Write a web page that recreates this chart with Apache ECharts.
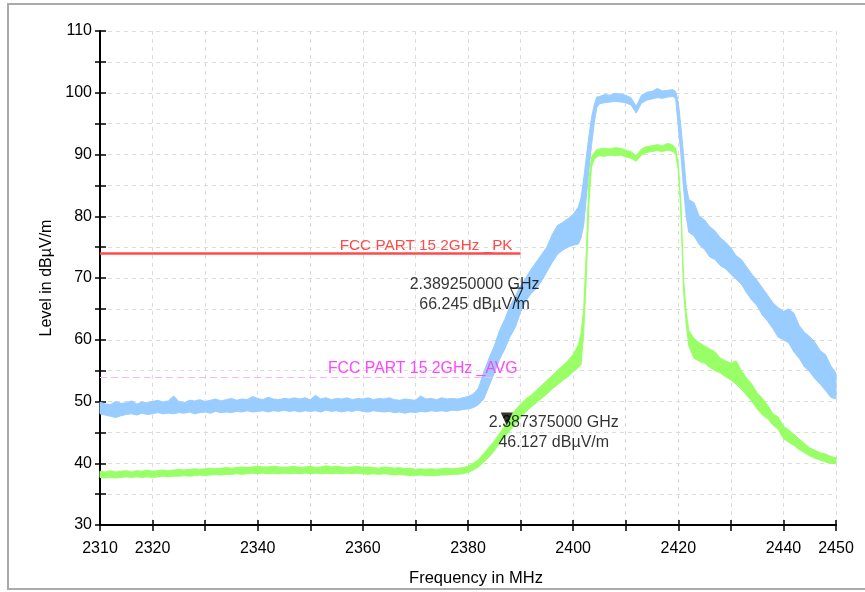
<!DOCTYPE html>
<html><head><meta charset="utf-8">
<script src="https://cdn.jsdelivr.net/npm/echarts@6/dist/echarts.min.js"></script>
<style>html,body{margin:0;padding:0;background:#fff}#chart{width:865px;height:592px}</style>
</head><body><div id="chart"></div>
<script>
// ---- data ----
const freqs = [
 2310,2311,2312,2313,2314,2315,2316,2317,2318,2319,
 2320,2321,2322,2323,2324,2325,2326,2327,2328,2329,
 2330,2331,2332,2333,2334,2335,2336,2337,2338,2339,
 2340,2341,2342,2343,2344,2345,2346,2347,2348,2349,
 2350,2351,2352,2353,2354,2355,2356,2357,2358,2359,
 2360,2361,2362,2363,2364,2365,2366,2367,2368,2369,
 2370,2371,2372,2373,2374,2375,2376,2377,2378,2379,
 2380,2381,2382,2383,2384,2385,2386,2387,2388,2389,
 2390,2391,2392,2393,2394,2395,2396,2397,2398,2399,
 2400,2401,2401.5,2402,2402.5,2403,2403.5,2404,2404.5,
 2405,2406,2407,2408,2409,2410,2411,2412,2413,2414,2415,2416,2417,2418,2419,
 2419.5,2420,2420.5,2421,2421.5,
 2422,2423,2424,2425,2426,2427,2428,2429,2430,2431,2432,2433,2434,2435,2436,
 2437,2438,2439,2440,2441,2442,2443,2444,2445,2446,2447,2448,2449,2450
];
const peakLo = [
 48.0,47.8,47.6,47.4,47.7,47.9,48.0,47.8,48.1,47.9,
 48.0,48.2,48.0,48.1,48.0,48.2,48.1,48.3,48.0,48.2,
 48.3,48.1,48.4,48.2,48.3,48.2,48.4,48.3,48.5,48.3,
 48.4,48.5,48.3,48.5,48.4,48.6,48.4,48.5,48.3,48.5,
 48.4,48.5,48.3,48.6,48.4,48.5,48.3,48.5,48.4,48.6,
 48.4,48.3,48.5,48.4,48.3,48.4,48.2,48.3,48.1,48.3,
 48.2,48.4,48.3,48.5,48.4,48.5,48.4,48.6,48.5,48.7,
 48.8,49.0,49.5,50.4,52.5,54.6,56.8,58.5,60.5,62.0,
 64.5,66.3,67.5,68.3,69.5,71.0,72.5,73.8,74.5,75.0,
 75.3,75.5,76.5,78.5,83.0,87.5,91.5,95.0,97.6,
 98.2,98.4,98.5,98.6,98.5,98.4,98.0,96.7,98.3,98.8,99.0,99.2,99.1,99.3,99.4,
 99.0,94.5,90.0,84.5,80.0,
 77.4,76.8,75.4,74.6,73.4,73.0,72.0,71.5,70.6,69.8,69.0,67.6,66.4,65.5,64.0,
 63.0,61.8,60.4,60.0,59.5,58.0,57.0,55.6,54.8,53.7,52.8,51.8,50.7,50.4
];
const peakHi = [
 49.9,49.6,49.5,50.0,49.7,49.8,50.1,49.6,49.9,49.8,
 50.0,50.2,49.9,50.1,50.9,50.0,49.8,50.2,50.1,50.3,
 50.0,50.2,50.4,50.1,50.3,50.5,50.2,50.4,50.3,50.8,
 50.5,50.3,50.7,50.4,50.3,50.5,50.4,50.6,50.4,50.6,
 50.3,51.0,50.4,50.6,50.3,50.5,50.4,50.6,50.3,50.5,
 50.4,50.6,50.3,50.5,50.4,50.6,50.3,50.2,50.4,50.3,
 50.2,50.9,50.4,50.5,50.3,50.6,50.4,50.5,50.4,50.6,
 50.8,51.2,52.2,54.8,57.0,59.0,61.5,63.3,65.5,67.0,
 68.8,70.0,71.4,72.6,73.8,75.0,77.0,78.5,79.0,79.6,
 80.3,81.5,83.0,86.0,89.5,93.0,96.0,98.0,99.3,
 99.4,99.7,99.6,99.9,99.8,99.6,99.2,97.8,99.6,100.1,100.2,100.7,100.3,100.4,100.5,
 100.2,98.5,94.5,90.0,85.0,
 82.7,82.2,80.0,79.4,78.3,77.6,76.5,75.8,74.9,73.6,73.0,71.8,70.6,69.6,68.4,
 67.2,66.0,65.2,64.6,65.0,64.3,62.3,61.2,60.5,59.6,58.2,57.6,55.8,54.6
];
const avgLo = [
 37.7,37.6,37.7,37.6,37.7,37.8,37.7,37.8,37.7,37.8,
 37.7,37.8,37.9,37.8,37.9,37.9,38.0,37.9,38.0,38.1,
 38.0,38.1,38.2,38.1,38.2,38.2,38.3,38.2,38.3,38.4,
 38.3,38.4,38.3,38.4,38.3,38.4,38.3,38.4,38.3,38.4,
 38.3,38.4,38.3,38.4,38.3,38.4,38.3,38.4,38.3,38.4,
 38.3,38.2,38.3,38.2,38.3,38.2,38.1,38.2,38.1,38.0,
 38.0,38.1,38.0,38.0,38.0,38.1,38.1,38.2,38.2,38.3,
 38.5,38.9,39.4,40.2,41.0,42.0,43.2,44.3,45.3,46.3,
 47.5,48.3,49.1,49.8,50.5,51.2,52.0,52.7,53.4,54.0,
 54.8,55.5,56.0,61.0,70.0,82.0,88.0,89.2,89.6,
 89.8,89.7,89.9,89.8,89.9,89.6,89.4,88.9,89.9,90.3,90.5,90.6,90.5,90.7,90.5,
 90.0,87.5,80.5,68.0,62.5,
 59.0,57.0,56.5,56.2,55.5,55.0,54.6,54.0,53.5,52.8,52.0,51.0,50.0,48.8,47.8,
 47.2,46.2,45.5,44.0,43.4,42.9,42.2,41.7,41.2,40.8,40.5,40.2,40.0,39.9
];
const avgHi = [
 38.7,38.6,38.8,38.6,38.7,38.8,38.6,38.8,38.7,38.9,
 38.7,38.8,38.9,38.8,38.9,39.0,38.9,39.0,39.1,39.0,
 39.1,39.2,39.1,39.2,39.3,39.2,39.3,39.4,39.3,39.4,
 39.5,39.4,39.4,39.5,39.4,39.3,39.4,39.5,39.3,39.4,
 39.5,39.3,39.4,39.6,39.4,39.5,39.4,39.3,39.4,39.5,
 39.3,39.4,39.3,39.2,39.4,39.3,39.2,39.3,39.1,39.2,
 39.0,39.1,39.0,39.1,39.0,39.1,39.2,39.1,39.2,39.3,
 39.5,40.0,40.6,41.6,42.6,43.6,44.8,46.0,47.6,48.6,
 49.6,50.4,51.0,51.8,52.6,53.4,54.2,55.0,55.8,56.6,
 57.6,59.2,61.0,65.0,74.0,86.0,89.6,90.3,90.8,
 90.9,91.0,90.9,91.1,91.0,90.7,90.5,89.8,90.9,91.3,91.4,91.6,91.4,91.8,91.5,
 91.0,88.5,82.0,70.0,64.5,
 61.5,60.2,59.5,59.0,58.5,58.0,57.0,56.6,56.2,56.6,55.0,53.8,52.8,51.4,50.5,
 49.4,48.0,47.5,46.0,45.4,44.7,43.9,43.2,42.5,42.1,41.7,41.5,41.1,40.9
];
const xTickLabels = [2310, 2320, 2340, 2360, 2380, 2400, 2420, 2440, 2450];
const limitFreqs = [2310, 2390];
const pkLimit = 74;
const avgLimit = 54;
const pkLimitName = 'FCC PART 15 2GHz _PK';
const avgLimitName = 'FCC PART 15 2GHz _AVG';
const markerFreqs = [2389.25, 2387.375];
const markerLevels = [66.245, 46.127];
const markerTexts = ['2.389250000 GHz\n66.245 dBµV/m', '2.387375000 GHz\n46.127 dBµV/m'];

// ---- chart ----
const FONT = "'Liberation Sans', Arial, sans-serif";
const chart = echarts.init(document.getElementById('chart'), null, {renderer: 'canvas'});

function band(name, lo, hi, color) {
  return {
    type: 'custom', name: name, xAxisIndex: 0, yAxisIndex: 0, silent: true, z: 3,
    data: freqs.map((f, i) => [f, lo[i], hi[i]]),
    encode: {x: 0, y: [1, 2]},
    renderItem: function (params, api) {
      if (params.dataIndex !== 0) return null;
      const pts = [];
      for (let i = 0; i < freqs.length; i++) pts.push(api.coord([freqs[i], hi[i]]));
      for (let i = freqs.length - 1; i >= 0; i--) pts.push(api.coord([freqs[i], lo[i]]));
      return {type: 'polygon', shape: {points: pts}, style: {fill: color, stroke: color, lineWidth: 1}};
    }
  };
}

function limit(value, name, lineColor, textColor, dashed, width, fontSize, dist) {
  return {
    type: 'line', data: [], xAxisIndex: 0, yAxisIndex: 0, silent: true, z: 2,
    markLine: {
      silent: true, symbol: 'none', animation: false,
      lineStyle: {color: lineColor, width: width, type: dashed ? [7, 4] : 'solid'},
      label: {show: true, position: 'insideEndTop', formatter: name, color: textColor,
               fontFamily: FONT, fontSize: fontSize, distance: dist},
      emphasis: {disabled: true},
      data: [[{coord: [limitFreqs[0], value]}, {coord: [limitFreqs[1], value]}]]
    }
  };
}

const axisLineStyle = {color: '#000', width: 2};
const gridLine = {show: true, lineStyle: {color: '#dcdcdc', type: [4, 4], width: 1}};

chart.setOption({
  animation: false,
  backgroundColor: '#fff',
  grid: {left: 100, right: 29, top: 31, bottom: 64},
  graphic: [{type: 'rect', silent: true, shape: {x: 8, y: 4, width: 880, height: 585},
             style: {fill: 'none', stroke: '#aaaaaa', lineWidth: 2}}],
  xAxis: [{
    type: 'value', min: 2310, max: 2450, interval: 10,
    name: 'Frequency in MHz', nameLocation: 'middle', nameGap: 45,
    nameTextStyle: {color: '#000', fontSize: 16.5, fontFamily: FONT, padding: [0, 0, 0, 16]},
    axisLine: {show: true, onZero: false, lineStyle: axisLineStyle},
    axisTick: {show: true, length: 6, lineStyle: {color: '#000', width: 1.5}},
    axisLabel: {color: '#000', fontSize: 16, fontFamily: FONT, margin: 16,
      formatter: v => xTickLabels.indexOf(v) >= 0 ? String(v) : ''},
    splitLine: gridLine
  }, {
    type: 'value', min: 2310, max: 2450, interval: 10, position: 'bottom',
    axisLine: {show: false}, axisLabel: {show: false}, splitLine: {show: false},
    axisTick: {show: true, inside: true, length: 5, lineStyle: {color: '#000', width: 1.5}}
  }],
  yAxis: [{
    type: 'value', min: 30, max: 110, interval: 5,
    name: 'Level in dBµV/m', nameLocation: 'middle', nameGap: 43,
    nameTextStyle: {color: '#000', fontSize: 16, fontFamily: FONT},
    axisLine: {show: true, onZero: false, lineStyle: axisLineStyle},
    axisTick: {show: true, length: 5, lineStyle: {color: '#000', width: 1.5}},
    axisLabel: {color: '#000', fontSize: 16, fontFamily: FONT, margin: 8,
      formatter: v => (v % 10 === 0 ? String(v) : '')},
    splitLine: gridLine
  }, {
    type: 'value', min: 30, max: 110, interval: 5, position: 'left',
    axisLine: {show: false}, axisLabel: {show: false}, splitLine: {show: false},
    axisTick: {show: true, inside: true, length: 6, lineStyle: {color: '#000', width: 1.5}}
  }],
  series: [
    limit(avgLimit, avgLimitName, '#ffb3ff', '#ff44ff', true, 1, 15.8, [3, 0]),
    limit(pkLimit, pkLimitName, '#ff4a4a', '#ff4a4a', false, 2.5, 15.3, [8, 0]),
    band('Peak', peakLo, peakHi, '#99ccff'),
    band('Average', avgLo, avgHi, '#99ff66'),
    {
      type: 'scatter', xAxisIndex: 0, yAxisIndex: 0, silent: true, z: 6,
      symbol: 'path://M0,0L12,0L6,13Z', symbolSize: [12, 13], symbolOffset: [0, -6.5],
      label: {show: true, position: 'inside', color: '#000', fontSize: 16, fontFamily: FONT,
              lineHeight: 20, align: 'center', verticalAlign: 'middle', textBorderWidth: 0,
              formatter: p => markerTexts[p.dataIndex]},
      data: [
        {value: [markerFreqs[0], markerLevels[0]],
         itemStyle: {color: 'rgba(255,255,255,0)', borderColor: '#000', borderWidth: 1.2},
         label: {offset: [-42, 0]}},
        {value: [markerFreqs[1], markerLevels[1]],
         itemStyle: {color: '#000'},
         label: {offset: [47, 14]}}
      ]
    }
  ]
});
</script></body></html>
